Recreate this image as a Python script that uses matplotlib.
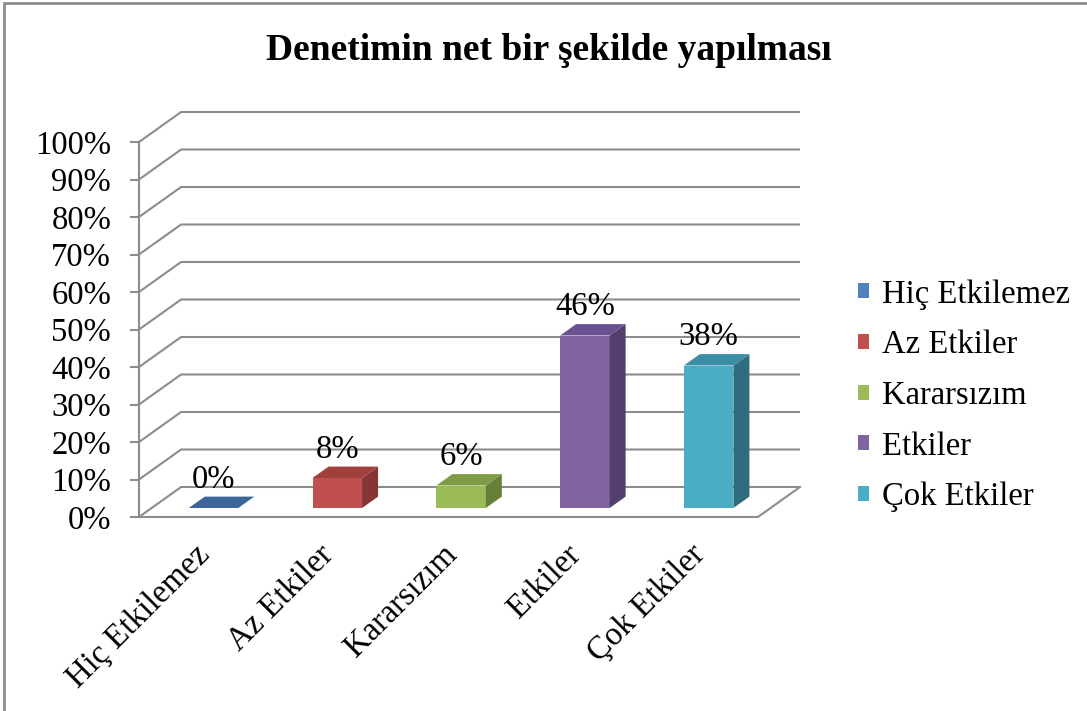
import matplotlib
matplotlib.use("Agg")
import matplotlib.pyplot as plt
from matplotlib.patches import Polygon, Patch, Rectangle

# ---- data ----
title = "Denetimin net bir şekilde yapılması"
categories = ["Hiç Etkilemez", "Az Etkiler", "Kararsızım", "Etkiler", "Çok Etkiler"]
values = [0, 8, 6, 46, 38]
yticks = list(range(0, 101, 10))
ytick_labels = [f"{v}%" for v in yticks]

# ---- style ----
front_colors = ["#4F81BD", "#C0504D", "#9BBB59", "#8064A2", "#4BACC6"]
top_colors = ["#3C6599", "#A0403D", "#7E9B46", "#6A5290", "#3A8FA6"]
side_colors = ["#2F4F78", "#853533", "#66803A", "#523F6E", "#2E6C7E"]
grid_color = "#8C8C8C"
FONT = "Liberation Serif"
FS = 23.5

W, H = 1087, 711
fig = plt.figure(figsize=(W / 100, H / 100), dpi=100)

# 3D depth offsets in data units
n = len(categories)
DX = 0.34   # category units
DY = 8.0    # percent units
f0, f1 = 0.30, 0.68   # bar front/back depth fractions
hw = 0.20             # half bar width

ax = fig.add_axes([139 / W, (H - 517) / H, 661 / W, 405 / H])
ax.set_xlim(0, n + DX)
ax.set_ylim(0, 100 + DY)
for s in ["top", "right", "bottom"]:
    ax.spines[s].set_visible(False)
ax.spines["left"].set_bounds(0, 100)
ax.spines["left"].set_color(grid_color)
ax.spines["left"].set_linewidth(1.5)
ax.set_xticks([])
ax.set_yticks(yticks)
ax.set_yticklabels(ytick_labels, fontfamily=FONT, fontsize=FS)
ax.tick_params(axis="y", direction="out", length=6.5, width=1.5, color=grid_color, pad=13.5)
ax.patch.set_alpha(0)

# gridlines on back wall + left wall
for v in yticks:
    ax.plot([0, DX, n + DX], [v, v + DY, v + DY], color=grid_color, lw=1.5,
            clip_on=False, solid_capstyle="butt", zorder=1)
# floor edges
ax.plot([0, n, n + DX], [0, 0, DY], color=grid_color, lw=1.5, clip_on=False, zorder=1)

# bars
for i, (v, fc, tc, sc) in enumerate(zip(values, front_colors, top_colors, side_colors)):
    c = i + 0.5
    xl0, xr0 = c - hw + f0 * DX, c + hw + f0 * DX
    xl1, xr1 = c - hw + f1 * DX, c + hw + f1 * DX
    yb0, yb1 = f0 * DY, f1 * DY
    if v > 0:
        ax.add_patch(Polygon([(xl0, yb0), (xr0, yb0), (xr0, yb0 + v), (xl0, yb0 + v)],
                             closed=True, fc=fc, ec="none", zorder=3, clip_on=False))
        ax.add_patch(Polygon([(xr0, yb0), (xr1, yb1), (xr1, yb1 + v), (xr0, yb0 + v)],
                             closed=True, fc=sc, ec="none", zorder=3, clip_on=False))
    ax.add_patch(Polygon([(xl0, yb0 + v), (xr0, yb0 + v), (xr1, yb1 + v), (xl1, yb1 + v)],
                         closed=True, fc=tc, ec="none", zorder=3, clip_on=False))
    ax.annotate(f"{v}%", (c + f0 * DX, v + yb1), xytext=(0, 1.5), textcoords="offset points",
                ha="center", va="bottom", fontfamily=FONT, fontsize=FS, zorder=4,
                annotation_clip=False)
    ax.annotate(categories[i], (c, 0), xytext=(3, -24), textcoords="offset points",
                ha="right", va="center", rotation=45, rotation_mode="anchor",
                fontfamily=FONT, fontsize=FS, annotation_clip=False)

# title
fig.text(549 / W, 1 - 51 / H, title, ha="center", va="center", fontfamily=FONT,
         fontsize=27, fontweight="bold")

# legend
handles = [Patch(fc=c, ec="none") for c in front_colors]
fig.legend(handles, categories, loc="upper left", bbox_to_anchor=(858 / W, 1 - 279 / H),
           bbox_transform=fig.transFigure, frameon=False,
           prop={"family": FONT, "size": FS}, handlelength=0.33, handleheight=0.33,
           handletextpad=0.4, labelspacing=0.62, borderaxespad=0, borderpad=0)

# outer frame (left and top edges visible)
fig.patches.append(Rectangle((4 / W, -0.05), 1.2, 1 - 3 / H + 0.05, transform=fig.transFigure,
                             fill=False, ec="#8C8C8C", lw=2))

fig.savefig("out.png", dpi=100)
